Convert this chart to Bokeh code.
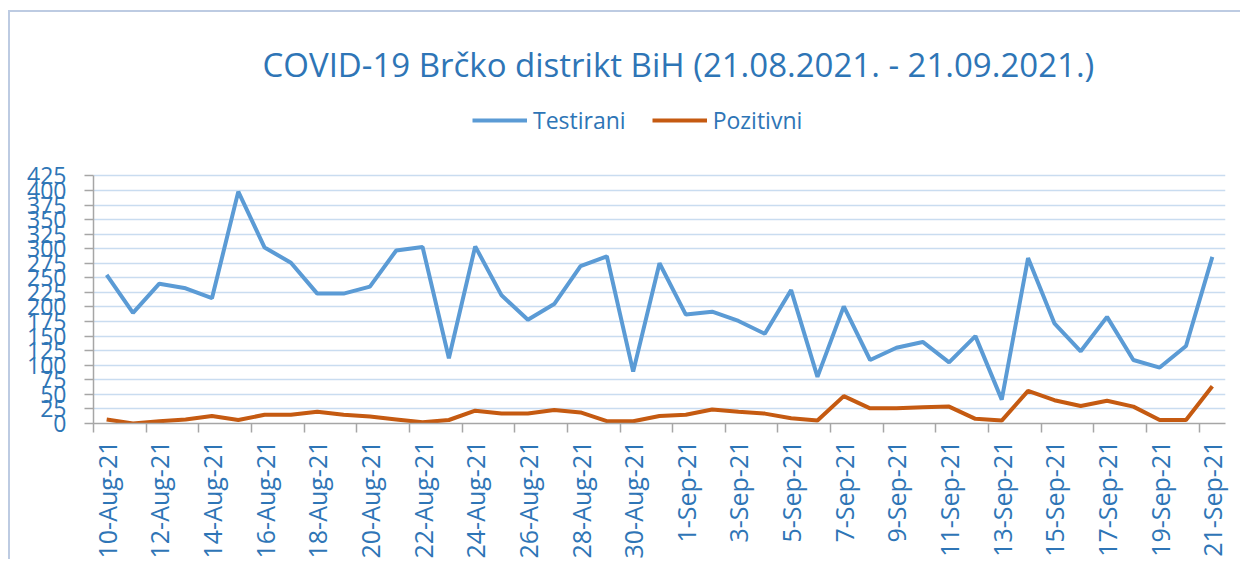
import math
from bokeh.plotting import figure
from bokeh.models import (FixedTicker, Legend, LegendItem, Title, Range1d,
                          ColumnDataSource)
from bokeh.embed import file_html
from bokeh.resources import INLINE

dates = ["10-Aug-21", "11-Aug-21", "12-Aug-21", "13-Aug-21", "14-Aug-21",
         "15-Aug-21", "16-Aug-21", "17-Aug-21", "18-Aug-21", "19-Aug-21",
         "20-Aug-21", "21-Aug-21", "22-Aug-21", "23-Aug-21", "24-Aug-21",
         "25-Aug-21", "26-Aug-21", "27-Aug-21", "28-Aug-21", "29-Aug-21",
         "30-Aug-21", "31-Aug-21", "1-Sep-21", "2-Sep-21", "3-Sep-21",
         "4-Sep-21", "5-Sep-21", "6-Sep-21", "7-Sep-21", "8-Sep-21",
         "9-Sep-21", "10-Sep-21", "11-Sep-21", "12-Sep-21", "13-Sep-21",
         "14-Sep-21", "15-Sep-21", "16-Sep-21", "17-Sep-21", "18-Sep-21",
         "19-Sep-21", "20-Sep-21", "21-Sep-21"]

testirani = [255, 190, 240, 232, 215, 398, 302, 276, 223, 223, 235, 297, 303,
             112, 304, 220, 178, 205, 270, 287, 89, 275, 187, 192, 176, 154,
             229, 80, 201, 109, 130, 140, 105, 150, 41, 284, 172, 124, 183,
             109, 96, 133, 286]

pozitivni = [7, 0, 4, 7, 13, 6, 15, 15, 20, 15, 12, 7, 2, 6, 22, 17, 17, 23,
             19, 4, 4, 13, 15, 24, 20, 17, 9, 5, 47, 26, 26, 28, 29, 8, 5, 56,
             40, 30, 39, 29, 6, 6, 64]

y_ticks = list(range(0, 426, 25))
y_axis_max = 425
title_text = "COVID-19 Brčko distrikt BiH (21.08.2021. - 21.09.2021.)"
series_names = ["Testirani", "Pozitivni"]

BLUE_TXT = "#2E75B6"
FONT = "Open Sans"

# layout (pixels): the value axis (0..425) occupies AXIS_PX of the frame;
# the frame is extended upward so that the legend sits inside it.
AXIS_PX = 247.6
FRAME_PX = 332.0
y_top = y_axis_max * FRAME_PX / AXIS_PX

idx = list(range(len(dates)))
src = ColumnDataSource(dict(x=idx, t=testirani, p=pozitivni))

p = figure(width=1232, height=549, output_backend="svg", toolbar_location=None,
           x_range=Range1d(-0.5, len(dates) - 0.5), y_range=Range1d(0, y_top),
           min_border_left=83, min_border_right=17, min_border_top=79,
           min_border_bottom=138)
p.styles = {"margin-left": "8px", "margin-top": "10px",
            "border-left": "2px solid #BDCBE2",
            "border-top": "2px solid #BDCBE2"}
p.outline_line_color = None

r1 = p.line("x", "t", source=src, line_color="#5B9BD5", line_width=4)
r2 = p.line("x", "p", source=src, line_color="#C55A11", line_width=4)

# x axis
xa = p.xaxis[0]
xa.ticker = FixedTicker(ticks=list(range(0, len(dates), 2)),
                        minor_ticks=[i - 0.5 for i in range(0, len(dates), 2)])
xa.major_label_overrides = {i: dates[i] for i in range(0, len(dates), 2)}
xa.major_label_orientation = math.pi / 2
xa.major_tick_line_color = None
xa.major_tick_out = 0
xa.major_tick_in = 0
xa.minor_tick_line_color = "#A6A6A6"
xa.minor_tick_line_width = 1.5
xa.minor_tick_out = 9
xa.minor_tick_in = 0
xa.axis_line_color = "#A6A6A6"
xa.axis_line_width = 1.5
xa.major_label_standoff = 8
xa.major_label_text_font = FONT
xa.major_label_text_font_size = "25px"
xa.major_label_text_color = BLUE_TXT

# y axis
ya = p.yaxis[0]
ya.ticker = FixedTicker(ticks=y_ticks)
ya.bounds = (0, y_axis_max)
ya.major_tick_out = 9
ya.major_tick_in = 0
ya.minor_tick_line_color = None
ya.major_tick_line_color = "#A6A6A6"
ya.major_tick_line_width = 1.5
ya.axis_line_color = "#A6A6A6"
ya.axis_line_width = 1.5
ya.major_label_standoff = 18
ya.major_label_text_font = FONT
ya.major_label_text_font_size = "23px"
ya.major_label_text_color = BLUE_TXT

p.xgrid.grid_line_color = None
p.ygrid.ticker = FixedTicker(ticks=y_ticks)
p.ygrid.grid_line_color = "#C9DCF0"
p.ygrid.grid_line_width = 1.5

legend = Legend(items=[LegendItem(label=series_names[0], renderers=[r1]),
                       LegendItem(label=series_names[1], renderers=[r2])],
                orientation="horizontal", location=(379, 287),
                label_text_font=FONT, label_text_font_size="23px",
                label_text_color=BLUE_TXT, glyph_width=55, label_standoff=6,
                spacing=26, border_line_color=None, background_fill_alpha=0,
                padding=0, margin=0)
p.add_layout(legend)

title = Title(text=title_text, align="left", text_font=FONT,
              text_font_size="33px", text_font_style="normal",
              text_color=BLUE_TXT, offset=169)
p.add_layout(title, "above")

open("out.html", "w").write(file_html(p, INLINE))
